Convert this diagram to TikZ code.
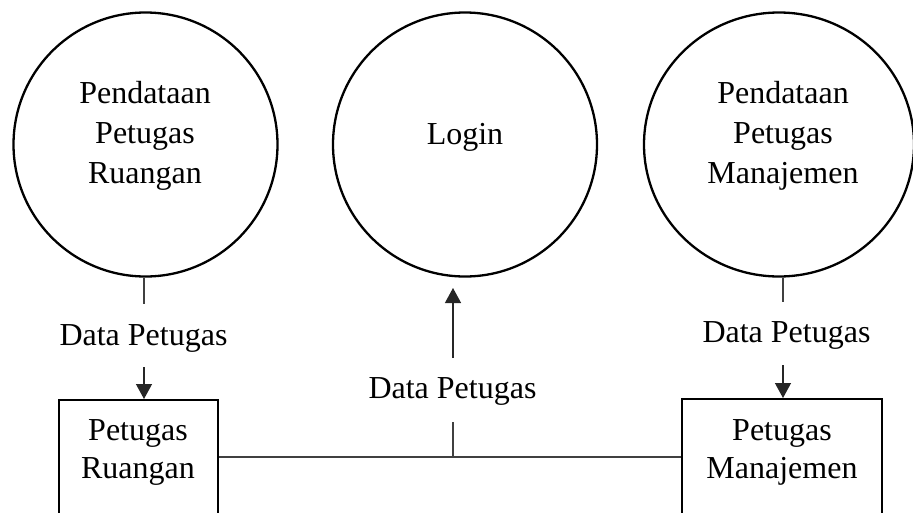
\documentclass[tikz,border=0pt]{standalone}
\usepackage{fontspec}
\setmainfont{Liberation Serif}
\usetikzlibrary{arrows.meta,shapes.geometric}
\begin{document}
\begin{tikzpicture}[x=1pt,y=-1pt,
  proc/.style={draw,line width=2.3pt,ellipse,inner sep=0pt},
  storebox/.style={draw,line width=2.3pt,rectangle,inner sep=0pt},
  txt/.style={align=center,inner sep=0pt,font=\fontsize{32}{38}\selectfont},
  ctxt/.style={txt,font=\fontsize{32}{40}\selectfont},
  flow/.style={draw=black!75,line width=1.3pt},
  arr/.style={-{Triangle[length=15pt,width=16pt]},draw=black!85,line width=1.3pt}]
\useasboundingbox (0,0) rectangle (913,512);
\clip (0,0) rectangle (913,512);
% processes
\node[proc,minimum width=264pt,minimum height=264pt] (p1) at (145.5,144.5) {};
\node[ctxt] (p1t) at (145,135.6) {Pendataan\\Petugas\\Ruangan};
\node[proc,minimum width=264pt,minimum height=264pt] (p2) at (465,144.5) {};
\node[txt,anchor=base] (p2t) at (465,144) {Login};
\node[proc,minimum width=270pt,minimum height=264pt] (p3) at (779,144.5) {};
\node[ctxt] (p3t) at (783,135.6) {Pendataan\\Petugas\\Manajemen};
% stores / entities
\node[storebox,minimum width=159pt,minimum height=160pt,anchor=north] (b1) at (138.5,399) {};
\node[txt] (b1t) at (138,452) {Petugas\\Ruangan};
\node[storebox,minimum width=200pt,minimum height=160pt,anchor=north] (b2) at (782,398) {};
\node[txt] (b2t) at (782,452) {Petugas\\Manajemen};
% labels
\node[txt,anchor=base] (l1) at (143.5,345) {Data Petugas};
\node[txt,anchor=base] (l2) at (452.5,398) {Data Petugas};
\node[txt,anchor=base] (l3) at (786.5,342) {Data Petugas};
% coordinates
\coordinate (l1a) at (144,304);
\coordinate (l1b) at (144,367);
\coordinate (mj) at (453,457);
\coordinate (m1) at (453,422);
\coordinate (m2) at (453,358);
\coordinate (m3) at (453,288);
\coordinate (r1) at (783,302);
\coordinate (r2) at (783,365);
% flows
\draw[flow] (l1a |- p1.south) -- (l1a);
\draw[arr] (l1b) -- (l1b |- b1.north);
\draw[flow] (b1.east |- mj) -- (b2.west |- mj);
\draw[flow] (mj) -- (m1);
\draw[arr] (m2) -- (m3);
\draw[flow] (r1 |- p3.south) -- (r1);
\draw[arr] (r2) -- (r2 |- b2.north);
\end{tikzpicture}
\end{document}
